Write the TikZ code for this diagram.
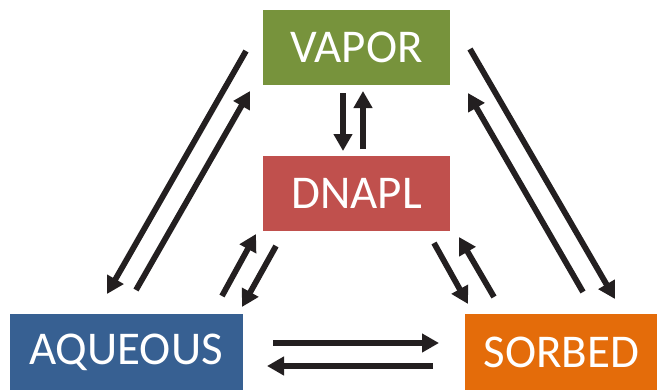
\documentclass[tikz,border=0pt]{standalone}
\usepackage{fontspec}
\setmainfont{Carlito}
\usetikzlibrary{arrows.meta}
\definecolor{vgreen}{HTML}{77933C}
\definecolor{dred}{HTML}{C0504D}
\definecolor{ablue}{HTML}{376092}
\definecolor{sorange}{HTML}{E46C0A}
\definecolor{arr}{HTML}{231F20}
\begin{document}
\begin{tikzpicture}[x=1pt,y=-1pt,
  phase/.style={rectangle,inner sep=0pt,minimum height=75pt,text=white,font=\fontsize{47}{47}\selectfont},
  flow/.style={draw=arr,line width=5.8pt,-{Triangle[length=17pt,width=18pt]}}]
\useasboundingbox (0,0) rectangle (657,389);
\node[phase,fill=vgreen,minimum width=187pt] (vap) at (356.5,47.5) {VAPOR};
\node[phase,fill=dred,minimum width=187pt] (dnapl) at (356.5,193.5) {DNAPL};
\node[phase,fill=ablue,minimum width=233pt,minimum height=76pt] (aq) at (126,352) {AQUEOUS};
\node[phase,fill=sorange,minimum width=193pt,minimum height=76pt] (sorb) at (561.5,352) {SORBED};
% endpoints
\coordinate (l1s) at (246,51);  \coordinate (l1e) at (107,294);
\coordinate (l2s) at (136,290); \coordinate (l2e) at (250,91);
\coordinate (c1s) at (343,93);  \coordinate (c1e) at (343,151);
\coordinate (c2s) at (363,149); \coordinate (c2e) at (363,91);
\coordinate (m1s) at (222,296); \coordinate (m1e) at (256,234);
\coordinate (m2s) at (276,246); \coordinate (m2e) at (242,307);
\coordinate (n1s) at (434,243); \coordinate (n1e) at (468,304);
\coordinate (n2s) at (494,297); \coordinate (n2e) at (459,237);
\coordinate (r1s) at (470,49);  \coordinate (r1e) at (615,299);
\coordinate (r2s) at (583,292); \coordinate (r2e) at (468,93);
\coordinate (b1s) at (273,343); \coordinate (b1e) at (439,343);
\coordinate (b2s) at (433,366); \coordinate (b2e) at (267,366);
\draw[flow] (l1s) -- (l1e);
\draw[flow] (l2s) -- (l2e);
\draw[flow] (c1s) -- (c1e);
\draw[flow] (c2s) -- (c2e);
\draw[flow] (m1s) -- (m1e);
\draw[flow] (m2s) -- (m2e);
\draw[flow] (n1s) -- (n1e);
\draw[flow] (n2s) -- (n2e);
\draw[flow] (r1s) -- (r1e);
\draw[flow] (r2s) -- (r2e);
\draw[flow] (b1s) -- (b1e);
\draw[flow] (b2s) -- (b2e);
\end{tikzpicture}
\end{document}
